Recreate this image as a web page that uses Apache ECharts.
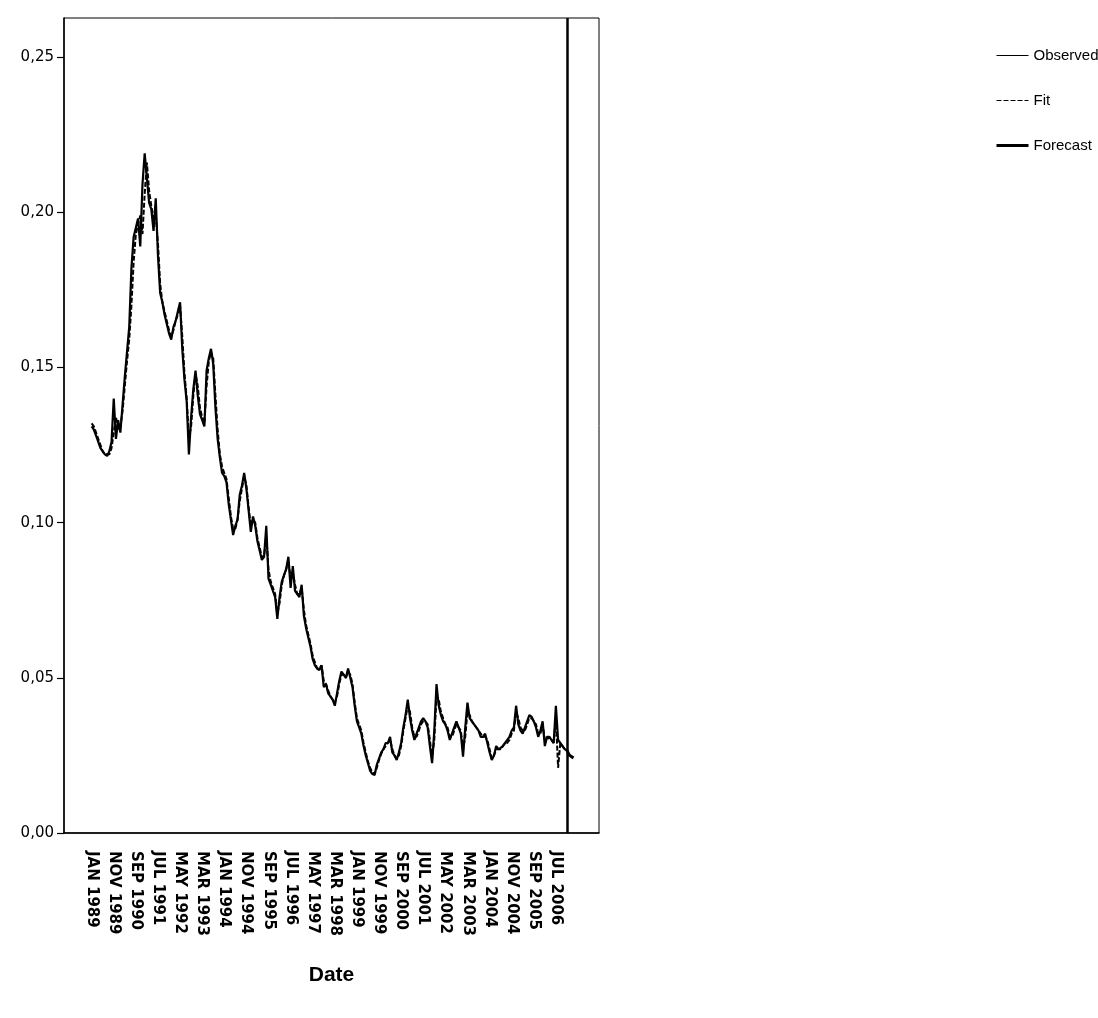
<!DOCTYPE html>
<html>
<head>
<meta charset="utf-8">
<title>Date</title>
<script src="https://cdn.jsdelivr.net/npm/echarts@6/dist/echarts.min.js"></script>
<style>
  html, body { margin: 0; padding: 0; background: #fff; }
  #chart { width: 1098px; height: 1018px; }
</style>
</head>
<body>
<div id="chart"></div>
<script>
// Monthly series, JAN 1989 .. DEC 2006 (one row per year)
const observed = [
  0.131, 0.130, 0.128, 0.126, 0.124, 0.123, 0.122, 0.1215, 0.123, 0.126, 0.140, 0.127,
  0.133, 0.129, 0.138, 0.147, 0.155, 0.163, 0.182, 0.192, 0.195, 0.198, 0.189, 0.209,
  0.219, 0.211, 0.203, 0.201, 0.194, 0.2045, 0.186, 0.174, 0.171, 0.167, 0.164, 0.161,
  0.159, 0.163, 0.165, 0.168, 0.171, 0.156, 0.146, 0.139, 0.122, 0.134, 0.143, 0.149,
  0.141, 0.135, 0.133, 0.131, 0.149, 0.153, 0.156, 0.151, 0.137, 0.127, 0.121, 0.116,
  0.115, 0.113, 0.106, 0.101, 0.096, 0.099, 0.101, 0.109, 0.112, 0.116, 0.111, 0.104,
  0.097, 0.102, 0.099, 0.094, 0.091, 0.088, 0.089, 0.099, 0.082, 0.080, 0.078, 0.076,
  0.069, 0.076, 0.081, 0.083, 0.085, 0.089, 0.079, 0.086, 0.078, 0.077, 0.076, 0.080,
  0.070, 0.066, 0.063, 0.060, 0.056, 0.054, 0.053, 0.0525, 0.054, 0.047, 0.048, 0.045,
  0.044, 0.043, 0.041, 0.045, 0.049, 0.052, 0.051, 0.050, 0.053, 0.050, 0.047, 0.041,
  0.036, 0.034, 0.032, 0.028, 0.025, 0.0225, 0.020, 0.019, 0.0187, 0.022, 0.024, 0.026,
  0.027, 0.029, 0.029, 0.031, 0.026, 0.025, 0.0235, 0.026, 0.029, 0.034, 0.038, 0.043,
  0.037, 0.033, 0.030, 0.032, 0.034, 0.036, 0.037, 0.036, 0.034, 0.028, 0.0225, 0.033,
  0.048, 0.041, 0.038, 0.036, 0.035, 0.033, 0.030, 0.032, 0.034, 0.036, 0.034, 0.032,
  0.0246, 0.034, 0.042, 0.037, 0.036, 0.035, 0.034, 0.033, 0.031, 0.031, 0.032, 0.029,
  0.026, 0.0235, 0.025, 0.028, 0.027, 0.0274, 0.028, 0.029, 0.030, 0.031, 0.033, 0.034,
  0.041, 0.035, 0.033, 0.032, 0.034, 0.036, 0.038, 0.0375, 0.036, 0.034, 0.031, 0.033,
  0.036, 0.028, 0.031, 0.031, 0.030, 0.029, 0.041, 0.030, 0.029, 0.028, 0.027, 0.0267
];

const fit = [
  0.132, 0.131, 0.129, 0.127, 0.125, 0.123, 0.122, 0.122, 0.122, 0.124, 0.129, 0.134,
  0.130, 0.131, 0.136, 0.144, 0.152, 0.159, 0.170, 0.184, 0.193, 0.196, 0.199, 0.193,
  0.206, 0.216, 0.207, 0.202, 0.198, 0.199, 0.190, 0.177, 0.171, 0.168, 0.165, 0.162,
  0.160, 0.162, 0.165, 0.167, 0.170, 0.160, 0.148, 0.140, 0.127, 0.131, 0.141, 0.148,
  0.144, 0.137, 0.134, 0.132, 0.144, 0.152, 0.155, 0.153, 0.141, 0.130, 0.122, 0.118,
  0.116, 0.114, 0.108, 0.102, 0.098, 0.098, 0.101, 0.107, 0.111, 0.115, 0.112, 0.105,
  0.099, 0.101, 0.100, 0.095, 0.092, 0.089, 0.089, 0.096, 0.085, 0.081, 0.079, 0.077,
  0.071, 0.074, 0.080, 0.083, 0.085, 0.088, 0.082, 0.084, 0.080, 0.077, 0.077, 0.079,
  0.072, 0.067, 0.064, 0.061, 0.057, 0.055, 0.053, 0.053, 0.054, 0.049, 0.048, 0.046,
  0.044, 0.043, 0.042, 0.044, 0.048, 0.051, 0.051, 0.050, 0.052, 0.051, 0.048, 0.042,
  0.037, 0.035, 0.033, 0.029, 0.026, 0.023, 0.021, 0.0195, 0.019, 0.021, 0.0235, 0.0255,
  0.027, 0.028, 0.029, 0.030, 0.027, 0.025, 0.024, 0.025, 0.028, 0.033, 0.037, 0.041,
  0.039, 0.034, 0.031, 0.031, 0.033, 0.035, 0.036, 0.036, 0.035, 0.030, 0.024, 0.030,
  0.044, 0.043, 0.039, 0.037, 0.035, 0.034, 0.031, 0.031, 0.033, 0.035, 0.034, 0.033,
  0.027, 0.031, 0.039, 0.038, 0.036, 0.035, 0.034, 0.033, 0.032, 0.031, 0.031, 0.030,
  0.027, 0.024, 0.025, 0.027, 0.027, 0.027, 0.028, 0.029, 0.029, 0.030, 0.032, 0.033,
  0.039, 0.037, 0.034, 0.033, 0.033, 0.035, 0.037, 0.037, 0.036, 0.035, 0.032, 0.032,
  0.035, 0.030, 0.030, 0.031, 0.030, 0.029, 0.037, 0.021, 0.029, 0.028, 0.027, 0.0265
];

// Forecast, DEC 2006 .. MAR 2007
const forecast = [0.0267, 0.0252, 0.0246, 0.0242];

const seriesStart = 'JAN 1989';
const forecastStart = 'DEC 2006';

const xTickLabels = [
  'JAN 1989', 'NOV 1989', 'SEP 1990', 'JUL 1991', 'MAY 1992', 'MAR 1993',
  'JAN 1994', 'NOV 1994', 'SEP 1995', 'JUL 1996', 'MAY 1997', 'MAR 1998',
  'JAN 1999', 'NOV 1999', 'SEP 2000', 'JUL 2001', 'MAY 2002', 'MAR 2003',
  'JAN 2004', 'NOV 2004', 'SEP 2005', 'JUL 2006'
];

const yTicks = [0, 0.05, 0.10, 0.15, 0.20, 0.25];

// Monthly category axis from JAN 1988 to FEB 2008
const MONTHS = ['JAN','FEB','MAR','APR','MAY','JUN','JUL','AUG','SEP','OCT','NOV','DEC'];
const categories = [];
for (let y = 1988; y <= 2008; y++) {
  for (let m = 0; m < 12; m++) {
    categories.push(MONTHS[m] + ' ' + y);
    if (y === 2008 && m === 1) break;
  }
}

const startIdx = categories.indexOf(seriesStart);
const fcIdx = categories.indexOf(forecastStart);
const pad = n => new Array(n).fill(null);

const showTick = (i, v) => xTickLabels.indexOf(v) >= 0;

// Legend face: a narrow sans when installed, otherwise a smaller regular sans
function legendFont() {
  const ctx = document.createElement('canvas').getContext('2d');
  ctx.font = '40px monospace';
  const base = ctx.measureText('Observed').width;
  ctx.font = '40px "Liberation Sans Narrow", monospace';
  const narrow = ctx.measureText('Observed').width;
  return narrow !== base
    ? { fontFamily: 'Liberation Sans Narrow', fontSize: 19 }
    : { fontFamily: 'Liberation Sans', fontSize: 15 };
}
const lf = legendFont();

const chart = echarts.init(document.getElementById('chart'), null, { renderer: 'canvas' });

chart.setOption({
  animation: false,
  backgroundColor: '#ffffff',
  grid: {
    left: 64, top: 18, right: 499, bottom: 185,
    show: true, borderColor: '#000', borderWidth: 1, backgroundColor: 'transparent'
  },
  legend: {
    orient: 'vertical',
    left: 995, top: 48, padding: 0,
    itemWidth: 32, itemHeight: 14, itemGap: 30,
    itemStyle: { color: 'transparent', borderWidth: 0, opacity: 0 },
    textStyle: { fontFamily: lf.fontFamily, fontSize: lf.fontSize, color: '#000' },
    data: [
      { name: 'Observed', lineStyle: { width: 1 } },
      { name: 'Fit', lineStyle: { width: 1 } },
      { name: 'Forecast', lineStyle: { width: 3 } }
    ]
  },
  xAxis: {
    type: 'category',
    data: categories,
    boundaryGap: true,
    name: 'Date',
    nameLocation: 'middle',
    nameGap: 132,
    nameTextStyle: { fontFamily: 'Liberation Sans', fontSize: 21, fontWeight: 'bold', color: '#000' },
    axisLine: { lineStyle: { color: '#000', width: 1.5 } },
    axisTick: { alignWithLabel: true, interval: showTick, length: 12, lineStyle: { color: '#000', width: 1.5 } },
    axisLabel: {
      interval: showTick, rotate: -90, margin: 18,
      fontFamily: 'DejaVu Sans', fontWeight: 'bold', fontSize: 15, color: '#000'
    },
    splitLine: { show: false }
  },
  yAxis: {
    type: 'value',
    min: 0, max: 0.2626, interval: 0.05,
    axisLine: { show: true, lineStyle: { color: '#000', width: 1.5 } },
    axisTick: { show: true, length: 7, customValues: yTicks, lineStyle: { color: '#000', width: 1.2 } },
    axisLabel: {
      customValues: yTicks, margin: 10,
      fontFamily: 'DejaVu Sans', fontSize: 15, color: '#000',
      formatter: v => v.toFixed(2).replace('.', ',')
    },
    splitLine: { show: false }
  },
  series: [
    {
      name: 'Observed', type: 'line', symbol: 'none',
      data: pad(startIdx).concat(observed),
      lineStyle: { color: '#000', width: 2.2 },
      itemStyle: { color: '#000' }
    },
    {
      name: 'Fit', type: 'line', symbol: 'none',
      data: pad(startIdx).concat(fit),
      lineStyle: { color: '#000', width: 2, type: [5, 2] },
      itemStyle: { color: '#000' }
    },
    {
      name: 'Forecast', type: 'line', symbol: 'none',
      data: pad(fcIdx).concat(forecast),
      lineStyle: { color: '#000', width: 3 },
      itemStyle: { color: '#000' },
      markLine: {
        silent: true, symbol: 'none', label: { show: false },
        lineStyle: { color: '#000', width: 2.5, type: 'solid' },
        data: [{ xAxis: forecastStart }]
      }
    }
  ]
});
</script>
</body>
</html>
